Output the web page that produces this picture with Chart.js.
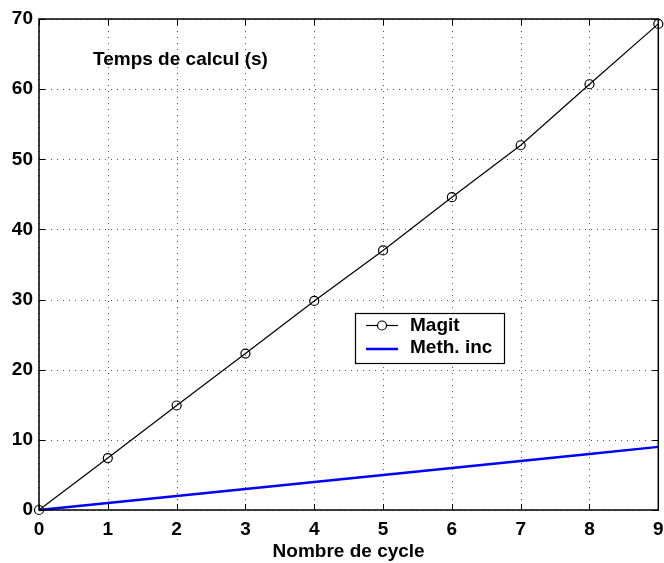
<!DOCTYPE html>
<html>
<head>
<meta charset="utf-8">
<script src="https://cdn.jsdelivr.net/npm/chart.js@4/dist/chart.umd.min.js"></script>
<style>
html,body{margin:0;padding:0;background:#fff;}
#wrap{width:664px;height:563px;}
</style>
</head>
<body>
<div id="wrap"><canvas id="c" width="664" height="563"></canvas></div>
<script>
const cycles = [0, 1, 2, 3, 4, 5, 6, 7, 8, 9];
const magit = [0, 7.4, 14.9, 22.3, 29.8, 37.0, 44.6, 52.0, 60.7, 69.3];
const methInc = [0, 1, 2, 3, 4, 5, 6, 7, 8, 9];
const xTicks = [0, 1, 2, 3, 4, 5, 6, 7, 8, 9];
const yTicks = [0, 10, 20, 30, 40, 50, 60, 70];
const seriesNames = ['Magit', 'Meth. inc'];
const plotTitle = 'Temps de calcul (s)';
const xTitle = 'Nombre de cycle';

const FONT = '"Liberation Sans", Arial, Helvetica, sans-serif';

const decor = {
  id: 'decor',
  beforeDatasetsDraw(chart) {
    const ctx = chart.ctx, a = chart.chartArea;
    const xs = chart.scales.x, ys = chart.scales.y;
    ctx.save();
    ctx.strokeStyle = '#555';
    ctx.lineWidth = 1;
    ctx.setLineDash([1, 5]);
    xTicks.forEach(v => {
      const px = Math.round(xs.getPixelForValue(v)) + 0.5;
      ctx.beginPath(); ctx.moveTo(px, a.top); ctx.lineTo(px, a.bottom); ctx.stroke();
    });
    yTicks.forEach(v => {
      const py = Math.round(ys.getPixelForValue(v)) + 0.5;
      ctx.beginPath(); ctx.moveTo(a.left, py); ctx.lineTo(a.right, py); ctx.stroke();
    });
    ctx.setLineDash([]);
    ctx.fillStyle = '#000';
    ctx.font = 'bold 19px ' + FONT;
    ctx.textAlign = 'left';
    ctx.textBaseline = 'middle';
    ctx.fillText(plotTitle, 93, 60);
    ctx.restore();
  },
  afterDatasetsDraw(chart) {
    const ctx = chart.ctx, a = chart.chartArea;
    const xs = chart.scales.x, ys = chart.scales.y;
    ctx.save();
    ctx.strokeStyle = '#000';
    ctx.lineWidth = 1.5;
    ctx.strokeRect(a.left, a.top, a.right - a.left, a.bottom - a.top);
    ctx.lineWidth = 1;
    const tl = 6;
    xTicks.forEach(v => {
      const px = Math.round(xs.getPixelForValue(v)) + 0.5;
      ctx.beginPath();
      ctx.moveTo(px, a.bottom); ctx.lineTo(px, a.bottom - tl);
      ctx.moveTo(px, a.top); ctx.lineTo(px, a.top + tl);
      ctx.stroke();
    });
    yTicks.forEach(v => {
      const py = Math.round(ys.getPixelForValue(v)) + 0.5;
      ctx.beginPath();
      ctx.moveTo(a.left, py); ctx.lineTo(a.left + tl, py);
      ctx.moveTo(a.right, py); ctx.lineTo(a.right - tl, py);
      ctx.stroke();
    });
    const lx = 355.5, ly = 313.5, lw = 149, lh = 50;
    ctx.fillStyle = '#fff';
    ctx.fillRect(lx, ly, lw, lh);
    ctx.strokeStyle = '#000';
    ctx.lineWidth = 1.2;
    ctx.strokeRect(lx, ly, lw, lh);
    ctx.lineWidth = 1.2;
    ctx.beginPath(); ctx.moveTo(366, 325.5); ctx.lineTo(398, 325.5); ctx.stroke();
    ctx.fillStyle = '#fff';
    ctx.beginPath(); ctx.arc(382, 325.5, 4.5, 0, Math.PI * 2); ctx.fill(); ctx.stroke();
    ctx.strokeStyle = '#0000ff';
    ctx.lineWidth = 2.5;
    ctx.beginPath(); ctx.moveTo(366, 349); ctx.lineTo(398, 349); ctx.stroke();
    ctx.fillStyle = '#000';
    ctx.font = 'bold 19px ' + FONT;
    ctx.textAlign = 'left';
    ctx.textBaseline = 'middle';
    ctx.fillText(seriesNames[0], 410, 326);
    ctx.fillText(seriesNames[1], 410, 348);
    ctx.restore();
  }
};

new Chart(document.getElementById('c'), {
  type: 'line',
  data: {
    datasets: [
      {
        label: seriesNames[0],
        data: cycles.map((c, i) => ({ x: c, y: magit[i] })),
        borderColor: '#000',
        borderWidth: 1.2,
        pointStyle: 'circle',
        pointRadius: 4.5,
        pointBorderWidth: 1.2,
        pointBorderColor: '#000',
        pointBackgroundColor: 'rgba(0,0,0,0)',
        tension: 0,
        clip: false,
        order: 1
      },
      {
        label: seriesNames[1],
        data: cycles.map((c, i) => ({ x: c, y: methInc[i] })),
        borderColor: '#0000ff',
        borderWidth: 2.5,
        pointRadius: 0,
        tension: 0,
        clip: false,
        order: 0
      }
    ]
  },
  options: {
    responsive: false,
    animation: false,
    events: [],
    layout: { padding: { top: 19, right: 2, left: 0, bottom: 0 } },
    plugins: { legend: { display: false }, tooltip: { enabled: false } },
    scales: {
      x: {
        type: 'linear',
        min: 0, max: 9,
        afterBuildTicks(s) { s.ticks = xTicks.map(v => ({ value: v })); },
        afterFit(s) { s.height = 53; s.paddingLeft = 0; s.paddingRight = 0; },
        grid: { display: false, drawTicks: false },
        border: { display: false },
        ticks: { color: '#000', font: { family: FONT, size: 19, weight: 'bold' }, padding: 8, maxRotation: 0, autoSkip: false },
        title: { display: true, text: xTitle, color: '#000', font: { family: FONT, size: 19, weight: 'bold' }, padding: { top: 0, bottom: 0 } }
      },
      y: {
        type: 'linear',
        min: 0, max: 70,
        afterBuildTicks(s) { s.ticks = yTicks.map(v => ({ value: v })); },
        afterFit(s) { s.width = 39; s.paddingTop = 0; s.paddingBottom = 0; },
        grid: { display: false, drawTicks: false },
        border: { display: false },
        ticks: { color: '#000', font: { family: FONT, size: 19, weight: 'bold' }, padding: 6, autoSkip: false }
      }
    }
  },
  plugins: [decor]
});
</script>
</body>
</html>
